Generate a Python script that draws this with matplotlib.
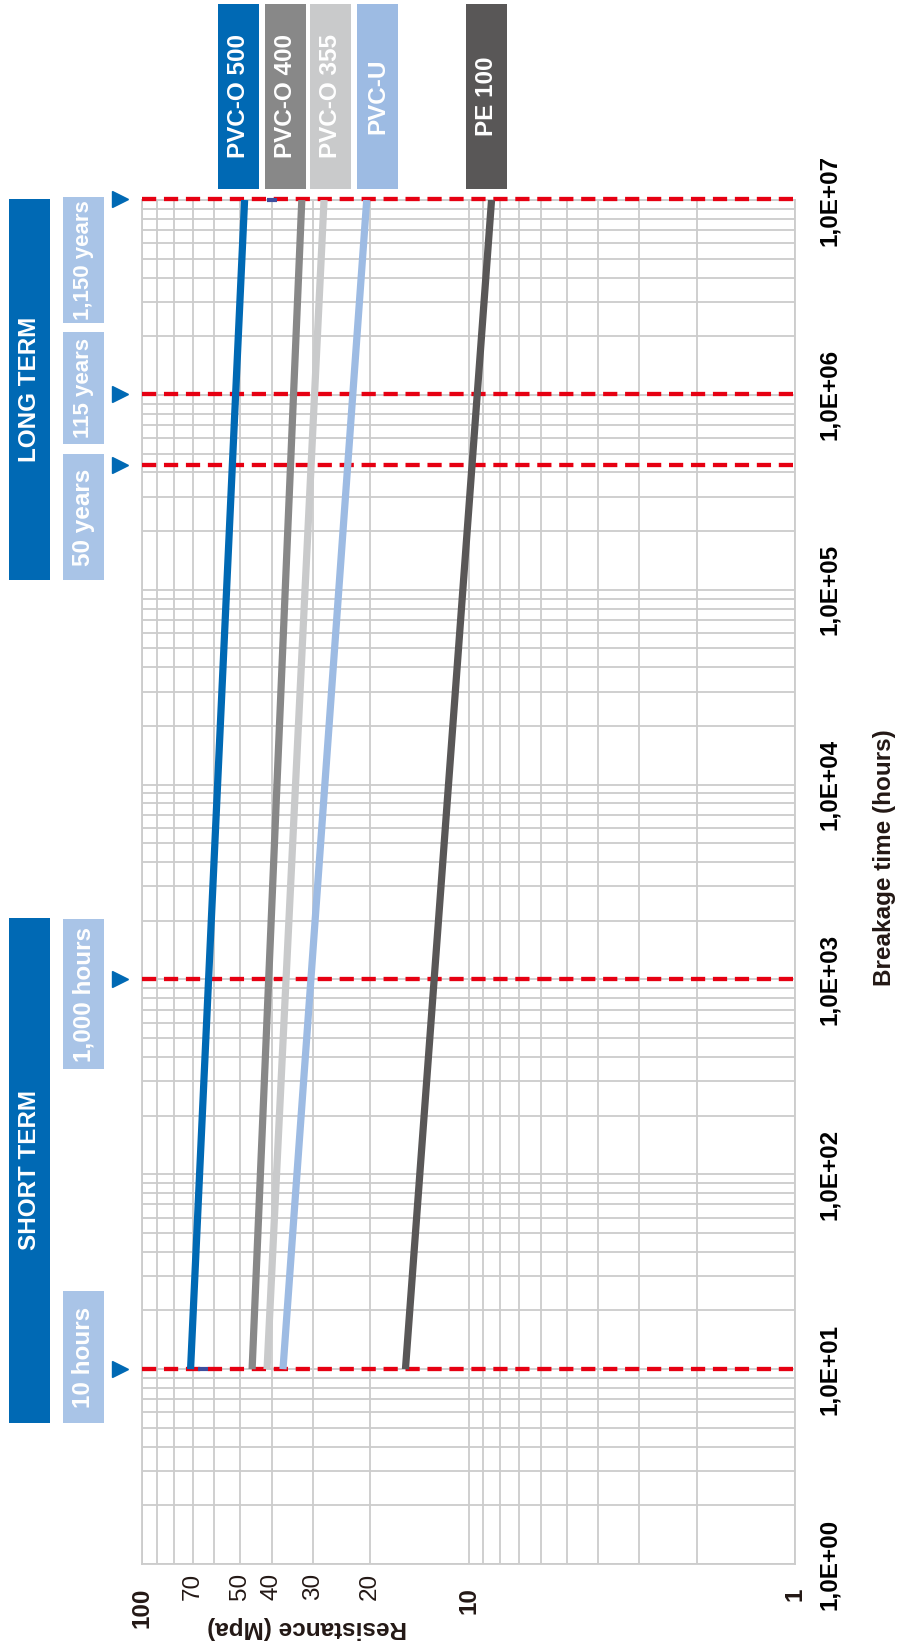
import matplotlib
matplotlib.use("Agg")
import matplotlib.pyplot as plt
import matplotlib.transforms as mtransforms
from matplotlib.patches import Rectangle
from matplotlib.ticker import FixedLocator, NullFormatter

plt.rcParams["font.family"] = ["Liberation Sans", "DejaVu Sans"]

W, H = 897, 1645          # figure size in px (dpi 100)
FS = 17.5                 # base font size

# --- data -------------------------------------------------------------------
# resistance (MPa) at 10 h and at 1,0E+07 h for each material
MATERIALS = ["PVC-O 500", "PVC-O 400", "PVC-O 355", "PVC-U", "PE 100"]
COLORS = ["#0069b4", "#888888", "#c9cacb", "#9dbbe3", "#595757"]
HOURS = [10, 1e7]
R_PVCO500 = [71.0, 48.5]
R_PVCO400 = [46.0, 32.4]
R_PVCO355 = [41.4, 27.7]
R_PVCU = [37.0, 20.5]
R_PE100 = [15.6, 8.5]
SERIES = [R_PVCO500, R_PVCO400, R_PVCO355, R_PVCU, R_PE100]

# two small stray markers of a hidden series
MARK_R = [65.0, 40.0]
MARK_HOURS = [10, 1e7]

# reference times: 10 h, 1000 h, 50 y, 115 y, 1150 y
REF_HOURS = [10, 1000, 438000, 1007400, 10074000]

TIME_TICKS = [10.0 ** k for k in range(8)]
TIME_LABELS = ["1,0E+0%d" % k for k in range(8)]
RES_TICKS = [100, 70, 50, 40, 30, 20, 10, 1]
RES_MAJOR = [100, 10, 1]

# --- figure -----------------------------------------------------------------
fig = plt.figure(figsize=(W / 100, H / 100), dpi=100)

# overlay in pixel coordinates for the boxes and titles
ov = fig.add_axes([0, 0, 1, 1])
ov.set_xlim(0, W)
ov.set_ylim(H, 0)
ov.axis("off")

ax = fig.add_axes([142 / W, 1 - 1564 / H, (795 - 142) / W, (1564 - 200) / H])
ax.set_xscale("log")
ax.set_yscale("log")
ax.set_xlim(100, 1)
ax.set_ylim(1, 1e7)

minor_t = [m * 10.0 ** k for k in range(7) for m in range(2, 10)]
minor_r = [m * 10.0 ** k for k in range(2) for m in range(2, 10)]
ax.yaxis.set_major_locator(FixedLocator(TIME_TICKS))
ax.yaxis.set_minor_locator(FixedLocator(minor_t))
ax.xaxis.set_major_locator(FixedLocator(RES_MAJOR))
ax.xaxis.set_minor_locator(FixedLocator(minor_r))
ax.xaxis.set_major_formatter(NullFormatter())
ax.xaxis.set_minor_formatter(NullFormatter())
ax.yaxis.set_minor_formatter(NullFormatter())
ax.grid(which="both", color="#cccccc", lw=1.3, zorder=0)
ax.set_axisbelow(True)
for sp in ax.spines.values():
    sp.set_color("#cccccc")
    sp.set_linewidth(1.3)

ax.yaxis.tick_right()
ax.set_yticks(TIME_TICKS, labels=TIME_LABELS, rotation=90, va="center",
              ha="left", fontsize=FS, fontweight="bold")
ax.tick_params(axis="y", which="both", length=0, pad=16.5)
ax.tick_params(axis="x", which="both", length=0)

# resistance labels under the plot
tx = mtransforms.blended_transform_factory(ax.transData, ax.transAxes)
for r in RES_TICKS:
    major = r in RES_MAJOR
    ax.text(r, -0.017 if major else -0.0066, str(r), transform=tx,
            rotation=90, ha="center", va="top", fontsize=FS,
            fontweight="bold" if major else "normal", color="#231815")

# reference lines
for h in REF_HOURS:
    ax.axhline(h, color="#e60012", lw=3.1, dashes=(3.3, 1.8), zorder=3,
               clip_on=False)

# material lines
for name, r, c in zip(MATERIALS, SERIES, COLORS):
    ax.plot(r, HOURS, color=c, lw=5.2, solid_capstyle="butt", zorder=4,
            label=name)
ax.plot(MARK_R, MARK_HOURS, ls="none", marker="_", ms=7, mew=3,
        color="#3d4e9e", zorder=5, clip_on=False)

# arrows pointing at the reference lines
ta = mtransforms.blended_transform_factory(ax.transAxes, ax.transData)
ax.plot([-0.034] * len(REF_HOURS), REF_HOURS, ls="none", marker=">", ms=12,
        color="#0069b4", transform=ta, clip_on=False)


def box(x0, y0, x1, y1, color, text, size=FS):
    ov.add_patch(Rectangle((x0, y0), x1 - x0, y1 - y0, color=color, lw=0))
    ov.text((x0 + x1) / 2, (y0 + y1) / 2, text, rotation=90, ha="center",
            va="center", color="white", fontsize=size, fontweight="bold")


# legend boxes at the top
LEG_X = [(218, 259), (265, 306), (310, 351), (357, 398), (466, 507)]
for (x0, x1), name, c in zip(LEG_X, MATERIALS, COLORS):
    box(x0, 4, x1, 189, c, name)

# term boxes on the left
DARK = "#0069b4"
LIGHT = "#a9c4e7"
box(9, 199, 50, 580, DARK, "LONG TERM")
box(9, 918, 50, 1423, DARK, "SHORT TERM")
box(63, 197, 104, 323, LIGHT, "1,150 years", 16)
box(63, 332, 104, 444, LIGHT, "115 years", 16)
box(63, 454, 104, 580, LIGHT, "50 years")
box(63, 919, 104, 1069, LIGHT, "1,000 hours")
box(63, 1291, 104, 1423, LIGHT, "10 hours")

ov.text(885, 858, "Breakage time (hours)", rotation=90, ha="center",
        va="center", fontsize=FS, fontweight="bold", color="#231815")
ov.text(307, 1627, "Resistance (Mpa)", rotation=180, ha="center",
        va="center", fontsize=FS, fontweight="bold", color="#231815")

fig.savefig("out.png", dpi=100)
